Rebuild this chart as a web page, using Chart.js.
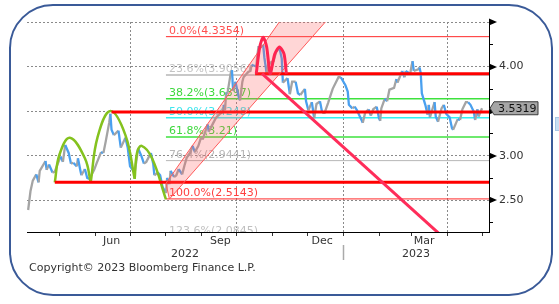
<!DOCTYPE html>
<html>
<head>
<meta charset="utf-8">
<script src="https://cdn.jsdelivr.net/npm/chart.js@4.4.0/dist/chart.umd.min.js"></script>
<style>
  html, body { margin: 0; padding: 0; background: #fff; }
  #wrap { position: relative; width: 559px; height: 304px; overflow: hidden; }
  #moldura { position: absolute; left: 9px; top: 4px; width: 544px; height: 292px; box-sizing: border-box;
             border: 2px solid #3a5a98; border-radius: 44px; }
  #lasca { position: absolute; left: 555px; top: 117px; width: 6px; height: 12px; background: #c9def2; border: 1px solid #a9c6e6; }
  #grafico { position: absolute; left: 0; top: 0; }
  #copy { position: absolute; left: 29px; top: 261px; font: 11px "DejaVu Sans"; line-height: 13px; color: #333; white-space: nowrap; }
</style>
</head>
<body>
<div id="wrap">
  <div id="moldura"></div>
  <div id="lasca"></div>
  <canvas id="grafico" width="559" height="304"></canvas>
  <div id="copy">Copyright© 2023 Bloomberg Finance L.P.</div>
</div>
<script>
// dia 0 = 1 abr 2022, o eixo x conta dias corridos
const DIA0 = Date.UTC(2022, 3, 1)
const dia = s => (Date.parse(s + 'T00:00:00Z') - DIA0) / 864e5

const eixoInicio = '2022-04-03'
const eixoFim = '2023-05-07'

// taxa (fechamentos)
const datas = [
  '2022-04-04','2022-04-06','2022-04-08','2022-04-11','2022-04-13','2022-04-14','2022-04-19','2022-04-20','2022-04-22','2022-04-25','2022-04-27','2022-04-29',
  '2022-05-02','2022-05-04','2022-05-06','2022-05-09','2022-05-11','2022-05-13','2022-05-16','2022-05-17','2022-05-19','2022-05-20','2022-05-23','2022-05-25','2022-05-27','2022-05-31',
  '2022-06-02','2022-06-06','2022-06-08','2022-06-10','2022-06-13','2022-06-14','2022-06-15','2022-06-17','2022-06-21','2022-06-23','2022-06-27','2022-06-29',
  '2022-07-01','2022-07-05','2022-07-08','2022-07-11','2022-07-13','2022-07-15','2022-07-19','2022-07-21','2022-07-22','2022-07-25','2022-07-27','2022-07-29',
  '2022-08-01','2022-08-02','2022-08-04','2022-08-05','2022-08-08','2022-08-10','2022-08-12','2022-08-15','2022-08-17','2022-08-19','2022-08-22','2022-08-24','2022-08-26','2022-08-29','2022-08-31',
  '2022-09-02','2022-09-06','2022-09-07','2022-09-09','2022-09-13','2022-09-15','2022-09-19','2022-09-20','2022-09-21','2022-09-22','2022-09-23','2022-09-26','2022-09-27','2022-09-28','2022-09-30',
  '2022-10-03','2022-10-04','2022-10-06','2022-10-07','2022-10-11','2022-10-13','2022-10-14','2022-10-18','2022-10-19','2022-10-20','2022-10-21','2022-10-24','2022-10-25','2022-10-27','2022-10-28','2022-10-31',
  '2022-11-02','2022-11-04','2022-11-07','2022-11-09','2022-11-10','2022-11-14','2022-11-16','2022-11-18','2022-11-21','2022-11-23','2022-11-25','2022-11-29','2022-11-30',
  '2022-12-02','2022-12-05','2022-12-07','2022-12-09','2022-12-12','2022-12-14','2022-12-16','2022-12-19','2022-12-21','2022-12-23','2022-12-28','2022-12-30',
  '2023-01-03','2023-01-05','2023-01-06','2023-01-09','2023-01-11','2023-01-13','2023-01-18','2023-01-20','2023-01-23','2023-01-25','2023-01-27','2023-01-30',
  '2023-02-01','2023-02-02','2023-02-03','2023-02-06','2023-02-08','2023-02-10','2023-02-14','2023-02-16','2023-02-17','2023-02-21','2023-02-23','2023-02-24','2023-02-28',
  '2023-03-01','2023-03-02','2023-03-03','2023-03-07','2023-03-08','2023-03-09','2023-03-10','2023-03-13','2023-03-15','2023-03-16','2023-03-17','2023-03-21','2023-03-22','2023-03-24','2023-03-27','2023-03-29','2023-03-31',
  '2023-04-03','2023-04-05','2023-04-06','2023-04-10','2023-04-12','2023-04-14','2023-04-17','2023-04-19','2023-04-21','2023-04-24','2023-04-25','2023-04-27','2023-04-28',
  '2023-05-01'
]
const taxas = [
  2.39,2.60,2.72,2.79,2.70,2.83,2.94,2.84,2.90,2.81,2.82,2.89,
  2.99,2.93,3.12,3.03,2.91,2.92,2.88,2.97,2.84,2.78,2.85,2.75,2.74,2.84,
  2.91,3.04,3.03,3.16,3.37,3.47,3.29,3.23,3.28,3.09,3.20,3.09,
  2.88,2.81,3.08,2.99,2.91,2.93,3.03,2.91,2.78,2.81,2.78,2.65,
  2.58,2.75,2.68,2.83,2.76,2.78,2.85,2.79,2.89,2.98,3.03,3.11,3.04,3.11,3.19,
  3.19,3.35,3.27,3.32,3.42,3.45,3.49,3.57,3.51,3.71,3.69,3.93,3.96,3.73,3.83,
  3.65,3.62,3.83,3.88,3.94,3.95,4.02,4.00,4.13,4.23,4.21,4.24,4.10,3.92,4.01,4.05,
  4.06,4.16,4.21,4.09,3.82,3.87,3.69,3.83,3.83,3.70,3.68,3.75,3.61,
  3.51,3.60,3.42,3.58,3.61,3.48,3.48,3.59,3.67,3.75,3.88,3.88,
  3.79,3.72,3.57,3.53,3.55,3.51,3.37,3.48,3.52,3.45,3.52,3.55,
  3.42,3.39,3.53,3.64,3.61,3.74,3.76,3.86,3.82,3.95,3.88,3.95,3.92,
  4.00,4.06,3.95,3.97,3.99,3.93,3.70,3.57,3.46,3.57,3.43,3.60,3.44,3.38,3.53,3.57,3.47,
  3.43,3.31,3.29,3.41,3.40,3.52,3.60,3.60,3.57,3.49,3.40,3.52,3.44,
  3.5319
]

// retração de fibonacci
const fibPct = [0, 23.6, 38.2, 50, 61.8, 76.4, 100, 123.6]
const fibValor = [4.3354, 3.9056, 3.6397, 3.4248, 3.21, 2.9441, 2.5143, 2.0845]
const fibInicio = '2022-08-01'

// linhas vermelhas grossas (suporte / resistencia)
const suporteValor = [3.92, 3.49, 2.70]
const suporteInicio = ['2022-10-17', '2022-06-15', '2022-04-27']

// arcos verdes
const arcosVerdes = [
  [['2022-04-27', 2.70], ['2022-05-01', 3.01], ['2022-05-10', 3.20], ['2022-05-23', 2.97], ['2022-05-28', 2.70]],
  [['2022-05-28', 2.70], ['2022-06-03', 3.21], ['2022-06-14', 3.50], ['2022-06-27', 3.23], ['2022-07-05', 2.74]],
  [['2022-07-05', 2.74], ['2022-07-07', 3.03], ['2022-07-11', 3.11], ['2022-07-20', 2.97], ['2022-08-01', 2.51]]
]

// topo duplo (M vermelho)
const topoDuplo = [['2022-10-18', 3.92], ['2022-10-21', 4.22], ['2022-10-24', 4.33], ['2022-10-27', 4.22], ['2022-10-30', 3.92],
                   ['2022-11-03', 4.14], ['2022-11-07', 4.22], ['2022-11-11', 4.14], ['2022-11-13', 3.92]]

// linha de tendencia de baixa
const tendencia = [['2022-10-23', 3.92], ['2023-03-27', 2.10]]

// canal de alta (poligono)
const canal = [['2022-08-04', 2.513], ['2022-12-18', 4.52], ['2022-11-08', 4.52], ['2022-08-01', 2.69], ['2022-08-04', 2.513]]

// eixo x
const inicioMeses = ['2022-05-01','2022-06-01','2022-07-01','2022-08-01','2022-09-01','2022-10-01','2022-11-01','2022-12-01',
                     '2023-01-01','2023-02-01','2023-03-01','2023-04-01','2023-05-01']
const inicioTrimestres = ['2022-07-01','2022-10-01','2023-01-01','2023-04-01']
const mesRotulos = ['Jun', 'Sep', 'Dec', 'Mar']
const mesDatas = ['2022-06-15', '2022-09-17', '2022-12-14', '2023-03-12']
const anoRotulos = ['2022', '2023']

// cores
const azul = '#4aa0ef'
const cinza = '#a4a4a4'
const fibLinhaCor = ['#ff2a2a', '#c8c8c8', '#3ee23e', '#34f0f0', '#3ee23e', '#b8b8b8', '#ff2a2a', '#b8b8b8']
const fibLinhaLargura = [1, 2, 1.5, 1.5, 1.5, 1, 1, 1]
const fibTextoCor = ['#ff5050', '#c4c4c4', '#3ed83e', '#3ee6ee', '#3ed83e', '#b8b8b8', '#ff4040', '#c0c0c0']

const pts = lista => lista.map(([d, v]) => ({x: dia(d), y: v}))
const trimestres = inicioTrimestres.map(dia)

const datasets = []
fibValor.forEach((v, i) => {
  datasets.push({data: [{x: dia(fibInicio), y: v}, {x: dia(eixoFim), y: v}],
    borderColor: fibLinhaCor[i], borderWidth: fibLinhaLargura[i], order: 10})
})
datasets.push({
  data: datas.map((d, i) => ({x: dia(d), y: taxas[i]})),
  borderWidth: 2.3, order: 8,
  segment: {borderColor: c => c.p1.parsed.y < c.p0.parsed.y ? azul : cinza}
})
arcosVerdes.forEach(a => datasets.push({data: pts(a), borderColor: '#84c21e', borderWidth: 2.5, tension: 0.4, order: 6}))
suporteValor.forEach((v, i) => {
  datasets.push({data: [{x: dia(suporteInicio[i]), y: v}, {x: dia(eixoFim), y: v}], borderColor: '#ff0000', borderWidth: 3, order: 5})
})
datasets.push({data: pts(canal), borderColor: '#ff5a5a', borderWidth: 1, backgroundColor: 'rgba(255,90,90,0.25)', fill: 'shape', order: 4})
datasets.push({data: pts(topoDuplo), borderColor: '#ff2450', borderWidth: 3, tension: 0.25, order: 3})
datasets.push({data: pts(tendencia), borderColor: '#ff2d5a', borderWidth: 3, order: 2})

const enfeites = {
  id: 'enfeites',
  beforeDatasetsDraw(chart) {
    const {ctx, chartArea: a, scales: {x, y}} = chart
    ctx.save()
    ctx.beginPath(); ctx.rect(a.left, a.top, a.width, a.height); ctx.clip()
    ctx.font = '11px "DejaVu Sans"'
    ctx.textAlign = 'left'
    ctx.textBaseline = 'alphabetic'
    fibPct.forEach((p, i) => {
      ctx.fillStyle = fibTextoCor[i]
      ctx.fillText(`${p.toFixed(1)}%(${fibValor[i]})`, x.getPixelForValue(dia(fibInicio)) + 3, y.getPixelForValue(fibValor[i]) - 3)
    })
    ctx.restore()
  },
  afterDraw(chart) {
    const {ctx, chartArea: a, scales: {x, y}} = chart
    ctx.save()
    // marcas do eixo y
    ctx.fillStyle = '#000'
    ctx.strokeStyle = '#000'
    ctx.lineWidth = 1
    y.ticks.forEach(t => {
      const py = Math.round(y.getPixelForValue(t.value))
      if (t.value % 0.5 === 0) {
        ctx.beginPath()
        ctx.moveTo(a.right, py - 3.5); ctx.lineTo(a.right + 8, py); ctx.lineTo(a.right, py + 3.5)
        ctx.closePath(); ctx.fill()
      } else {
        ctx.beginPath(); ctx.moveTo(a.right, py + 0.5); ctx.lineTo(a.right + 4, py + 0.5); ctx.stroke()
      }
    })
    // etiqueta do ultimo valor
    const ultimo = taxas[taxas.length - 1]
    const py = y.getPixelForValue(ultimo)
    const x0 = a.right + 1
    ctx.beginPath()
    ctx.moveTo(x0, py); ctx.lineTo(x0 + 4, py - 6.5); ctx.lineTo(x0 + 48, py - 6.5)
    ctx.lineTo(x0 + 48, py + 6.5); ctx.lineTo(x0 + 4, py + 6.5); ctx.closePath()
    ctx.fillStyle = '#a6a6a6'; ctx.fill()
    ctx.strokeStyle = '#3a3a3a'; ctx.stroke()
    ctx.fillStyle = '#111'
    ctx.font = '11px "DejaVu Sans"'
    ctx.textAlign = 'left'; ctx.textBaseline = 'middle'
    ctx.fillText(ultimo.toFixed(4), x0 + 8, py + 0.5)
    // meses e anos
    ctx.fillStyle = '#333'
    ctx.textAlign = 'center'
    mesRotulos.forEach((m, i) => ctx.fillText(m, x.getPixelForValue(dia(mesDatas[i])), a.bottom + 9))
    const virada = x.getPixelForValue(dia('2023-01-01'))
    ctx.fillText(anoRotulos[0], (a.left + virada) / 2, a.bottom + 22)
    ctx.fillText(anoRotulos[1], (virada + a.right) / 2, a.bottom + 22)
    ctx.strokeStyle = '#aaa'; ctx.lineWidth = 1.5
    ctx.beginPath(); ctx.moveTo(Math.round(virada) + 0.5, a.bottom + 13); ctx.lineTo(Math.round(virada) + 0.5, a.bottom + 28); ctx.stroke()
    ctx.restore()
  }
}

Chart.defaults.font.family = '"DejaVu Sans"'
Chart.defaults.font.size = 11
Chart.defaults.color = '#333'

new Chart(document.getElementById('grafico'), {
  type: 'line',
  data: {datasets},
  plugins: [enfeites],
  options: {
    responsive: false,
    animation: false,
    devicePixelRatio: 1,
    layout: {padding: {left: 27, top: 22, right: 0, bottom: 0}},
    elements: {point: {radius: 0}, line: {fill: false}},
    plugins: {legend: {display: false}, tooltip: {enabled: false}},
    scales: {
      x: {
        type: 'linear',
        min: dia(eixoInicio),
        max: dia(eixoFim),
        afterBuildTicks: s => { s.ticks = inicioMeses.map(d => ({value: dia(d)})) },
        afterFit: s => { s.height = 72 },
        ticks: {display: false},
        grid: {
          color: c => (c.tick && trimestres.includes(c.tick.value)) ? '#8a8a8a' : 'transparent',
          drawTicks: true, tickLength: 4, tickColor: '#333', tickWidth: 1
        },
        border: {display: true, color: '#000', width: 1, dash: [2, 2]}
      },
      y: {
        position: 'right',
        min: 2.143,
        max: 4.5,
        afterFit: s => { s.width = 70 },
        ticks: {
          stepSize: 0.25, includeBounds: false, padding: 10, color: '#333',
          callback: v => [4, 3, 2.5].includes(v) ? v.toFixed(2) : ''
        },
        grid: {
          color: c => (c.tick && c.tick.value % 0.5 === 0) ? '#8a8a8a' : 'transparent',
          drawTicks: false
        },
        border: {display: true, color: '#000', width: 1, dash: [2, 2]}
      }
    }
  }
})
</script>
</body>
</html>
